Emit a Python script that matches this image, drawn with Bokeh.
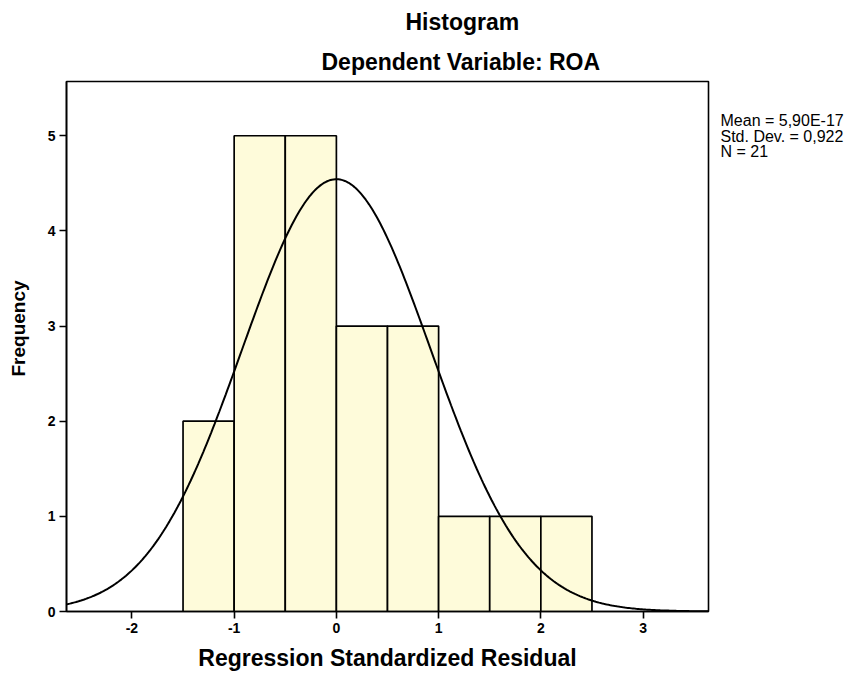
import numpy as np
from bokeh.plotting import figure
from bokeh.models import Range1d, Title, FixedTicker, LinearAxis
from bokeh.embed import file_html
from bokeh.resources import INLINE

# ---- data ----
bin_edges = [-1.5, -1.0, -0.5, 0.0, 0.5, 1.0, 1.5, 2.0, 2.5]
counts = [2, 5, 5, 3, 3, 1, 1, 1]
x_ticks = [-2, -1, 0, 1, 2, 3]
x_tick_labels = ["-2", "-1", "0", "1", "2", "3"]
y_ticks = [0, 1, 2, 3, 4, 5]
stat_mean = 5.90e-17
stat_sd = 0.922
stat_n = 21
stat_lines = ["Mean = 5,90E-17", "Std. Dev. = 0,922", "N = 21"]
title_text = "Histogram"
subtitle_text = "Dependent Variable: ROA"
x_label = "Regression Standardized Residual"
y_label = "Frequency"

FONT = "Liberation Sans"
W, H = 854, 680
FL, FR, FT, FB = 66, 708, 81, 611   # frame edges in page pixels
XMIN, XMAX = -2.64, 3.64
YMIN, YMAX = 0.0, 5.57

p = figure(width=W, height=H, x_range=Range1d(XMIN, XMAX), y_range=Range1d(YMIN, YMAX),
           output_backend="svg", toolbar_location=None,
           min_border_left=FL, min_border_right=W - FR, min_border_top=FT, min_border_bottom=H - FB)
p.background_fill_color = "white"
p.border_fill_color = "white"
p.xgrid.visible = False
p.ygrid.visible = False
p.outline_line_color = "black"
p.outline_line_width = 1.6

def ypx_to_data(py):
    return YMAX - (py - FT) / (FB - FT) * (YMAX - YMIN)

for ax, ticks in ((p.xaxis, x_ticks), (p.yaxis, y_ticks)):
    ax.ticker = FixedTicker(ticks=ticks)
    ax.major_tick_out = 7
    ax.major_tick_in = 0
    ax.minor_tick_out = 0
    ax.minor_tick_in = 0
    ax.axis_line_width = 1.6
    ax.major_tick_line_width = 1.6
    ax.axis_line_color = "black"
    ax.major_tick_line_color = "black"
    ax.major_label_text_font = FONT
    ax.major_label_text_font_size = "14px"
    ax.major_label_text_font_style = "bold"
    ax.major_label_text_color = "black"
    ax.major_label_standoff = 4
p.xaxis.major_label_overrides = {t: s for t, s in zip(x_ticks, x_tick_labels)}

p.xaxis.axis_label = x_label
p.xaxis.axis_label_text_font = FONT
p.xaxis.axis_label_text_font_size = "23px"
p.xaxis.axis_label_text_font_style = "bold"
p.xaxis.axis_label_text_color = "black"
p.xaxis.axis_label_standoff = 9

# y-axis title placed via an extra, line-less axis (allows an off-centre position)
ylab_axis = LinearAxis(ticker=FixedTicker(ticks=[ypx_to_data(328)]),
                       major_label_overrides={ypx_to_data(328): y_label},
                       major_label_orientation="vertical",
                       axis_line_color=None, major_tick_line_color=None, minor_tick_line_color=None,
                       major_label_text_font=FONT, major_label_text_font_size="19px",
                       major_label_text_font_style="bold", major_label_text_color="black",
                       major_label_standoff=10)
p.add_layout(ylab_axis, "left")

# statistics box text, right of the frame
stat_y = [ypx_to_data(v) for v in (120, 135.5, 150.5)]
stat_axis = LinearAxis(ticker=FixedTicker(ticks=stat_y),
                       major_label_overrides={y: s for y, s in zip(stat_y, stat_lines)},
                       axis_line_color=None, major_tick_line_color=None, minor_tick_line_color=None,
                       major_tick_out=0, major_tick_in=0,
                       major_label_text_font=FONT, major_label_text_font_size="16px",
                       major_label_text_color="black", major_label_standoff=12)
p.add_layout(stat_axis, "right")

# titles (the added Title sits next to the frame, p.title above it)
p.title.text = title_text
p.title.align = "left"
p.title.offset = 405 - FL
p.title.text_font = FONT
p.title.text_font_size = "23px"
p.title.text_font_style = "bold"
p.title.text_color = "black"
p.title.standoff = 10
p.add_layout(Title(text=subtitle_text, align="left", offset=321 - FL, text_font=FONT,
                   text_font_size="23px", text_font_style="bold", text_color="black",
                   standoff=14), "above")

# bars
p.quad(left=bin_edges[:-1], right=bin_edges[1:], top=counts, bottom=0,
       fill_color="#FEFBDA", line_color="black", line_width=1.7)

# fitted normal curve from the stated mean / std. dev. / N
xs = np.linspace(XMIN, XMAX, 400)
bw = bin_edges[1] - bin_edges[0]
ys = stat_n * bw / (stat_sd * np.sqrt(2 * np.pi)) * np.exp(-0.5 * ((xs - stat_mean) / stat_sd) ** 2)
p.line(xs, ys, line_color="black", line_width=2)

open("out.html", "w").write(file_html(p, INLINE))
